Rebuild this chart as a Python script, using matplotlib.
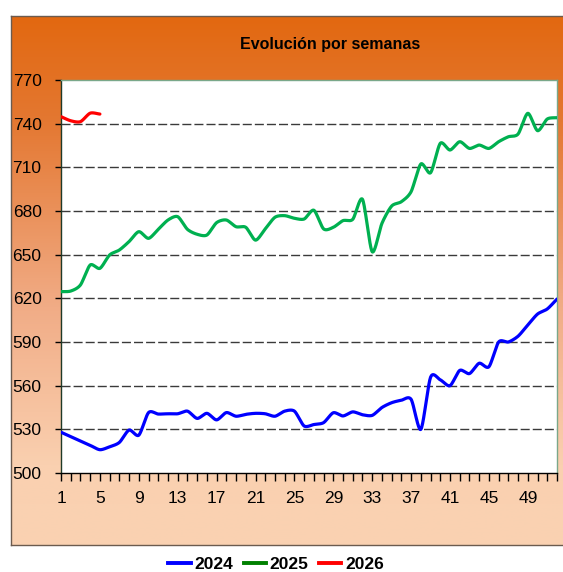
import numpy as np
import matplotlib
matplotlib.use("Agg")
import matplotlib.pyplot as plt
from matplotlib.lines import Line2D
from matplotlib.colors import LinearSegmentedColormap

plt.rcParams['font.family'] = ['Liberation Sans', 'DejaVu Sans']

# weekly values
weeks = np.arange(1, 53)
v2024 = [528, 525, 522, 519, 516, 518, 521, 529.5, 526, 541.5,
         540.5, 540.7, 540.7, 542.5, 537.5, 541, 536.5, 541.5, 539, 540.3,
         541, 540.7, 539, 542.5, 542.5, 532.3, 533.3, 534.6, 541.4, 539.2,
         542, 540, 539.6, 545, 548.3, 550, 550.6, 530, 565.8, 564,
         560, 570.5, 568.3, 575.4, 573, 590, 590, 594, 601.7, 609.2,
         612.7, 619.5]
v2025 = [624.6, 625, 629.2, 642.9, 640.6, 649.8, 653.2, 659, 665.8, 661.2,
         667.4, 673.8, 676.1, 667.4, 664, 663.5, 672, 673.8, 669.2, 668.8,
         660, 667.7, 675.7, 676.8, 675, 674.5, 680.5, 667.7, 668.8, 673.4,
         674.3, 688, 652, 671.5, 683.4, 686.4, 693.3, 712.3, 706.3, 726.5,
         721.9, 727.6, 723, 725.3, 723, 727.6, 731, 732.9, 747.1, 735.2,
         743.2, 744.1]
v2026 = [744.8, 742, 741.4, 747.2, 746.6]

series_names = ['2024', '2025', '2026']
line_colors = ['#0000FF', '#00B050', '#FF0000']
legend_colors = ['#0000FF', '#008000', '#FF0000']


def smooth(x, y, n=20, s=0.4):
    # cardinal spline, close to Excel's smoothed lines
    x = np.asarray(x, float)
    y = np.asarray(y, float)
    px = np.concatenate([[2 * x[0] - x[1]], x, [2 * x[-1] - x[-2]]])
    py = np.concatenate([[2 * y[0] - y[1]], y, [2 * y[-1] - y[-2]]])
    t = np.linspace(0, 1, n, endpoint=False)
    h00 = 2 * t ** 3 - 3 * t ** 2 + 1
    h10 = t ** 3 - 2 * t ** 2 + t
    h01 = -2 * t ** 3 + 3 * t ** 2
    h11 = t ** 3 - t ** 2
    xs, ys = [], []
    for i in range(1, len(px) - 2):
        for arr, out in ((px, xs), (py, ys)):
            m1 = s * (arr[i + 1] - arr[i - 1])
            m2 = s * (arr[i + 2] - arr[i])
            out.extend(h00 * arr[i] + h10 * m1 + h01 * arr[i + 1] + h11 * m2)
    xs.append(x[-1])
    ys.append(y[-1])
    return np.array(xs), np.array(ys)


W, H = 563, 572
fig = plt.figure(figsize=(W / 100, H / 100), dpi=100)
fig.patch.set_facecolor('white')

# gradient panel behind the chart
bg = fig.add_axes([11 / W, 1 - 545 / H, (W - 11) / W, (545 - 16) / H])
cmap = LinearSegmentedColormap.from_list('panel', [
    (0.0, (226 / 255, 104 / 255, 16 / 255)),
    (0.2, (228 / 255, 120 / 255, 50 / 255)),
    (0.55, (241 / 255, 172 / 255, 134 / 255)),
    (0.85, (250 / 255, 208 / 255, 176 / 255)),
    (1.0, (250 / 255, 210 / 255, 178 / 255))])
grad = np.linspace(0, 1, 256).reshape(-1, 1)
bg.imshow(grad, aspect='auto', cmap=cmap, extent=[0, 1, 0, 1], origin='upper')
bg.set_xticks([])
bg.set_yticks([])
for side in bg.spines.values():
    side.set_color('#6b5b4f')
    side.set_linewidth(1.0)
bg.spines['right'].set_visible(False)

ax = fig.add_axes([61 / W, 1 - 473 / H, (557 - 61) / W, (473 - 80) / H])
ax.set_facecolor('white')

for vals, c in zip([v2024, v2025, v2026], line_colors):
    sx, sy = smooth(weeks[:len(vals)], vals)
    ax.plot(sx, sy, color=c, lw=2.3, solid_capstyle='round', zorder=3)

ax.set_xlim(1, 52)
ax.set_ylim(500, 770)
ax.set_yticks(np.arange(500, 771, 30))
ax.set_xticks(np.arange(1, 52, 4))
ax.set_xticks(weeks, minor=True)
ax.tick_params(axis='y', direction='out', length=4, width=1, pad=10, labelsize=12.5)
ax.tick_params(axis='x', which='major', direction='out', length=6, width=1, pad=7, labelsize=12.5)
ax.tick_params(axis='x', which='minor', direction='out', length=6, width=1)

for yv in np.arange(530, 741, 30):
    ax.axhline(yv, color='#3a3a3a', lw=1.0, dashes=(6.5, 2.2), zorder=1)

ax.spines['top'].set_color('#7aa88a')
ax.spines['right'].set_color('#7aa88a')
ax.spines['left'].set_color('#1f3a28')
ax.spines['bottom'].set_color('black')
for side in ax.spines.values():
    side.set_linewidth(1.0)

fig.text(330 / W, 1 - 45 / H, 'Evolución por semanas', ha='center', va='center',
         fontsize=11.5, fontweight='bold')

handles = [Line2D([], [], color=c, lw=2.8) for c in legend_colors]
fig.legend(handles, series_names, loc='center', bbox_to_anchor=(276 / W, 1 - 564 / H),
           ncol=3, frameon=False, handlelength=1.3, handletextpad=0.2,
           columnspacing=0.6, prop={'weight': 'bold', 'size': 12.5})

fig.savefig('out.png', dpi=100)
